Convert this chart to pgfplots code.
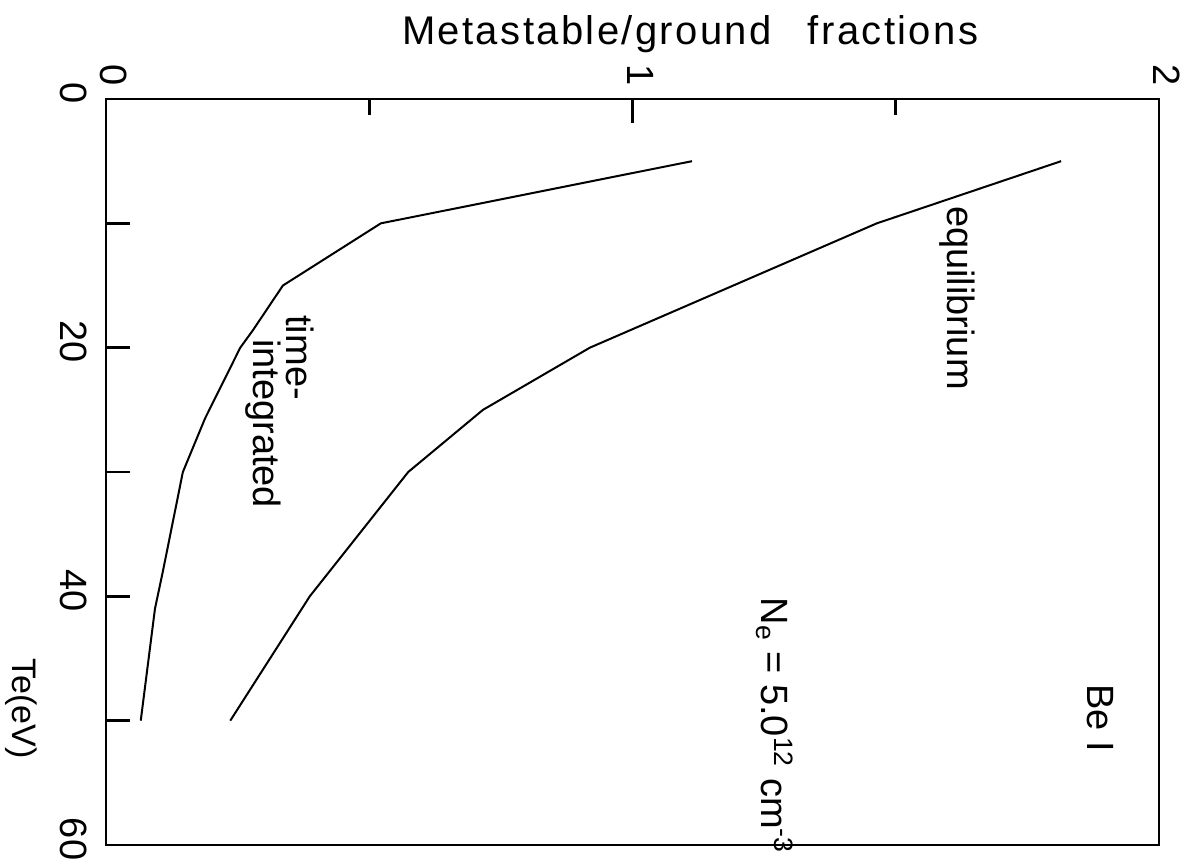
\documentclass[border=0pt]{standalone}
\usepackage{fontspec}
\setmainfont{Liberation Sans}
\usepackage{pgfplots}
\pgfplotsset{compat=1.18}

\begin{document}
\begin{tikzpicture}[font=\fontsize{19}{22}\selectfont]
\path[use as bounding box] (0,0) rectangle (597pt,429pt);
\begin{axis}[
  at={(53pt,6.5pt)}, anchor=south west,
  width=526.5pt, height=373pt, scale only axis,
  xmin=0, xmax=2, ymin=0, ymax=60, y dir=reverse,
  axis line style={line width=1.3pt},
  xtick={0,1,2}, minor xtick={0.5,1.5},
  ytick={0,10,...,60}, yticklabels={0,,20,,40,,60},
  major tick length=12pt, minor tick length=8pt,
  every tick/.style={line width=1.3pt, black},
  tick align=inside,
  xtick pos=right, xticklabel pos=right,
  ytick pos=left, yticklabel pos=left,
  /pgf/number format/assume math mode=true,
  xticklabel style={xshift=4pt, rotate=-90, anchor=east, font=\fontsize{19}{22}\selectfont},
  yticklabel style={yshift=3pt, rotate=-90, anchor=north, font=\fontsize{19}{22}\selectfont},
  xticklabel shift=3pt, yticklabel shift=6pt,
  clip=false,
]
% time-integrated
\addplot[black, line width=1pt] coordinates {
  (1.113,5) (0.522,10) (0.336,15) (0.279,18.6) (0.255,20) (0.188,25.7)
  (0.146,30) (0.108,38) (0.093,41) (0.066,50)
};
% equilibrium
\addplot[black, line width=1pt] coordinates {
  (1.814,5) (1.464,10) (0.919,20) (0.716,25) (0.574,30) (0.387,40) (0.236,50)
};
\node[rotate=-90] at (axis cs:1.616,16.0) {equilibrium};
\node[rotate=-90] at (axis cs:0.368,20.8) {time-};
\node[rotate=-90] at (axis cs:0.298,26.1) {integrated};
\node[rotate=-90] at (axis cs:1.888,49.8) {Be I};
\node[rotate=-90] at (axis cs:1.27,50.4) {N\textsubscript{e} = 5.0\textsuperscript{12} cm\textsuperscript{-3}};
\node[rotate=-90, font=\fontsize{17}{20}\selectfont] at (axis cs:-0.16,49.0) {Te(eV)};
\node[anchor=east, font=\fontsize{20}{23}\selectfont\addfontfeature{LetterSpace=6}] at (axis cs:1.67,-5.2) {Metastable/ground\hspace{18pt}fractions};
\end{axis}
\end{tikzpicture}
\end{document}
